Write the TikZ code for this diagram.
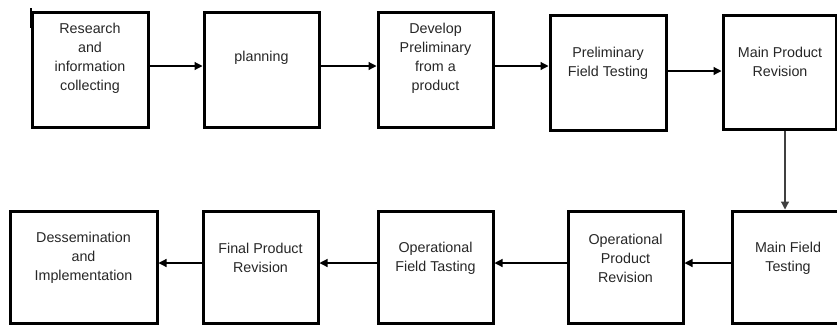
\documentclass[tikz,border=0pt]{standalone}
\usepackage{fontspec}
\setmainfont{Liberation Sans}
\usetikzlibrary{arrows.meta}
\begin{document}
\begin{tikzpicture}[x=1pt,y=-1pt,
  box/.style={draw=black,line width=3pt,rectangle,inner sep=0pt,minimum width=#1},
  box/.default=115pt,
  txt/.style={align=center,text=black!85,font=\fontsize{14.3pt}{19pt}\selectfont,inner sep=0pt},
  arr/.style={line width=1.2pt,-{Triangle[length=8pt,width=8pt]}}]
\useasboundingbox (0,0) rectangle (837,325);
\clip (0,0) rectangle (837,325);
% top row
\node[box=116pt,minimum height=115pt] (b1) at (90,69.5) {};
\node[box,minimum height=115pt] (b2) at (261.5,69.5) {};
\node[box,minimum height=115pt] (b3) at (435.5,69.5) {};
\node[box=116pt,minimum height=115pt] (b4) at (608,72.5) {};
\node[box=113pt,minimum height=114pt] (b5) at (779.5,72) {};
% bottom row
\node[box=147pt,minimum height=112pt] (bA) at (83.5,267) {};
\node[box,minimum height=112pt] (bB) at (260.5,267) {};
\node[box,minimum height=112pt] (bC) at (435.5,267) {};
\node[box,minimum height=112pt] (bD) at (625.5,267) {};
\node[box=120pt,minimum height=112pt] (bE) at (792,267) {};
% texts
\node[txt] (t1) at (90,58) {Research\\and\\information\\collecting};
\node[txt] (t2) at (261.5,58) {planning};
\node[txt] (t3) at (435.5,58) {Develop\\Preliminary\\from a\\product};
\node[txt] (t4) at (608,63) {Preliminary\\Field Testing};
\node[txt] (t5) at (780,62) {Main Product\\Revision};
\node[txt] (tA) at (83.5,258) {Dessemination\\and\\Implementation};
\node[txt] (tB) at (260.5,258) {Final Product\\Revision};
\node[txt] (tC) at (435.5,258) {Operational\\Field Tasting};
\node[txt] (tD) at (625.5,258) {Operational\\Product\\Revision};
\node[txt] (tE) at (788,258) {Main Field\\Testing};
% small mark at top-left
\coordinate (m1) at (31,8);
\coordinate (m2) at (31,28);
\draw[line width=2.5pt] (m1) -- (m2);
% connectors
\draw[arr] ([yshift=3.5pt]b1.east) -- ([yshift=3.5pt]b2.west);
\draw[arr] ([yshift=3.5pt]b2.east) -- ([yshift=3.5pt]b3.west);
\draw[arr] ([yshift=3.5pt]b3.east) -- ([yshift=6.5pt]b4.west);
\draw[arr] ([yshift=1.5pt]b4.east) -- ([yshift=1pt]b5.west);
\draw[arr,draw=black!75,fill=black] ([xshift=5.5pt]b5.south) -- ([xshift=-7pt]bE.north);
\draw[arr] ([yshift=4pt]bE.west) -- ([yshift=4pt]bD.east);
\draw[arr] ([yshift=4pt]bD.west) -- ([yshift=4pt]bC.east);
\draw[arr] ([yshift=4pt]bC.west) -- ([yshift=4pt]bB.east);
\draw[arr] ([yshift=4pt]bB.west) -- ([yshift=4pt]bA.east);
\end{tikzpicture}
\end{document}
